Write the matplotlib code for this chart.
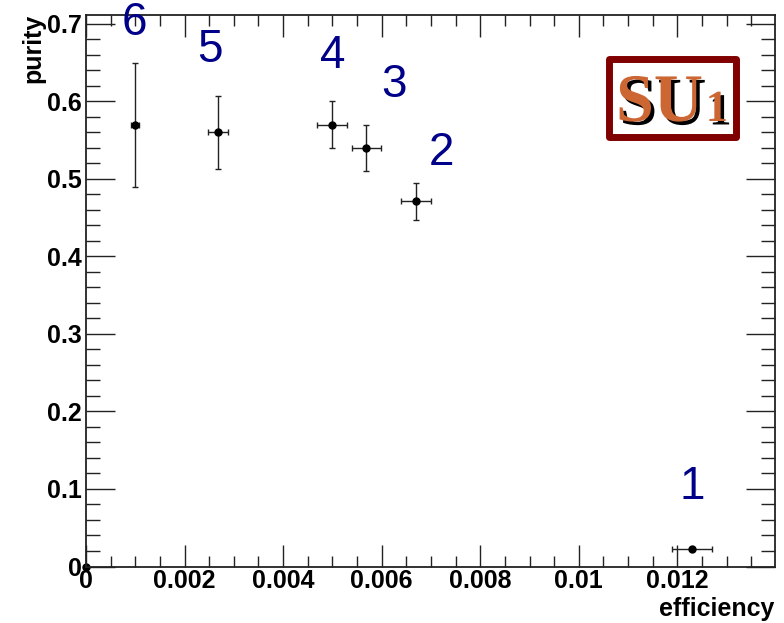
import matplotlib.pyplot as plt
import matplotlib.patheffects as pe
from matplotlib.patches import Rectangle
from matplotlib.ticker import MultipleLocator
import numpy as np

# points (efficiency, purity) with errors
labels = ["1", "2", "3", "4", "5", "6"]
eff = [0.0123, 0.00669, 0.00569, 0.00499, 0.00268, 0.00099]
eff_err = [0.0004, 0.0003, 0.0003, 0.0003, 0.0002, 0.00008]
pur = [0.023, 0.471, 0.540, 0.570, 0.560, 0.570]
pur_err = [0.0, 0.024, 0.030, 0.030, 0.047, 0.080]

# where the cut labels sit
lab_x = [0.01231, 0.00722, 0.00625, 0.00501, 0.00252, 0.00099]
lab_y = [0.103, 0.534, 0.621, 0.659, 0.666, 0.701]

plt.rcParams['font.family'] = ['Liberation Sans', 'DejaVu Sans']

fig = plt.figure(figsize=(7.84, 6.23), dpi=100)
ax = fig.add_axes([86 / 784, 56.5 / 623, 689 / 784, 551.5 / 623])

ax.errorbar(eff, pur, xerr=eff_err, yerr=pur_err, fmt="o", color="black", ms=5,
            ecolor="#222222", elinewidth=1, capsize=2.5, capthick=1, clip_on=False)
ax.plot([0], [0], "o", color="black", ms=5, clip_on=False)

for t, x, y in zip(labels, lab_x, lab_y):
    ax.text(x, y, t, color="#000088", fontsize=33, ha="center", va="center", clip_on=False)

ax.set_xlim(0, 0.01398)
ax.set_ylim(0, 0.7116)
ax.xaxis.set_major_locator(MultipleLocator(0.002))
ax.xaxis.set_minor_locator(MultipleLocator(0.0005))
ax.yaxis.set_major_locator(MultipleLocator(0.1))
ax.yaxis.set_minor_locator(MultipleLocator(0.02))
ax.set_xticks([0, 0.002, 0.004, 0.006, 0.008, 0.01, 0.012])
ax.set_xticklabels(["0", "0.002", "0.004", "0.006", "0.008", "0.01", "0.012"])
ax.set_yticks([0, 0.1, 0.2, 0.3, 0.4, 0.5, 0.6, 0.7])
ax.set_yticklabels(["0", "0.1", "0.2", "0.3", "0.4", "0.5", "0.6", "0.7"])

ax.tick_params(which="both", direction="in", top=True, right=True, width=1, color="#222222")
ax.tick_params(axis="x", which="major", length=16, labelsize=18, pad=2)
ax.tick_params(axis="x", which="minor", length=8)
ax.tick_params(axis="y", which="major", length=21, labelsize=18, pad=3)
ax.tick_params(axis="y", which="minor", length=10)
for lab in ax.get_xticklabels() + ax.get_yticklabels():
    lab.set_fontweight("bold")
for s in ax.spines.values():
    s.set_linewidth(1.3)
    s.set_color("#222222")

fig.text(774 / 784, 1 - 609 / 623, "efficiency", ha="right", va="center", fontsize=18, fontweight="bold")
fig.text(33 / 784, 1 - 14 / 623, "purity", ha="center", va="top", rotation=90, fontsize=18, fontweight="bold")

# SU1 logo box
fig.patches.append(Rectangle((609 / 784, 1 - 137 / 623), 127 / 784, 78 / 623, transform=fig.transFigure,
                             facecolor="white", edgecolor="#800000", linewidth=5, joinstyle="round"))
shadow = [pe.withSimplePatchShadow(offset=(2.5, -2.5), shadow_rgbFace="black", alpha=1.0)]
fig.text(616 / 784, 1 - 121 / 623, "SU", fontsize=49, fontweight="bold", family="Liberation Serif",
         color="#cc6633", ha="left", va="baseline", path_effects=shadow)
fig.text(728 / 784, 1 - 121 / 623, "1", fontsize=32, fontweight="bold", family="Liberation Serif",
         color="#cc6633", ha="right", va="baseline", path_effects=shadow)

fig.savefig("out.png", dpi=100)
